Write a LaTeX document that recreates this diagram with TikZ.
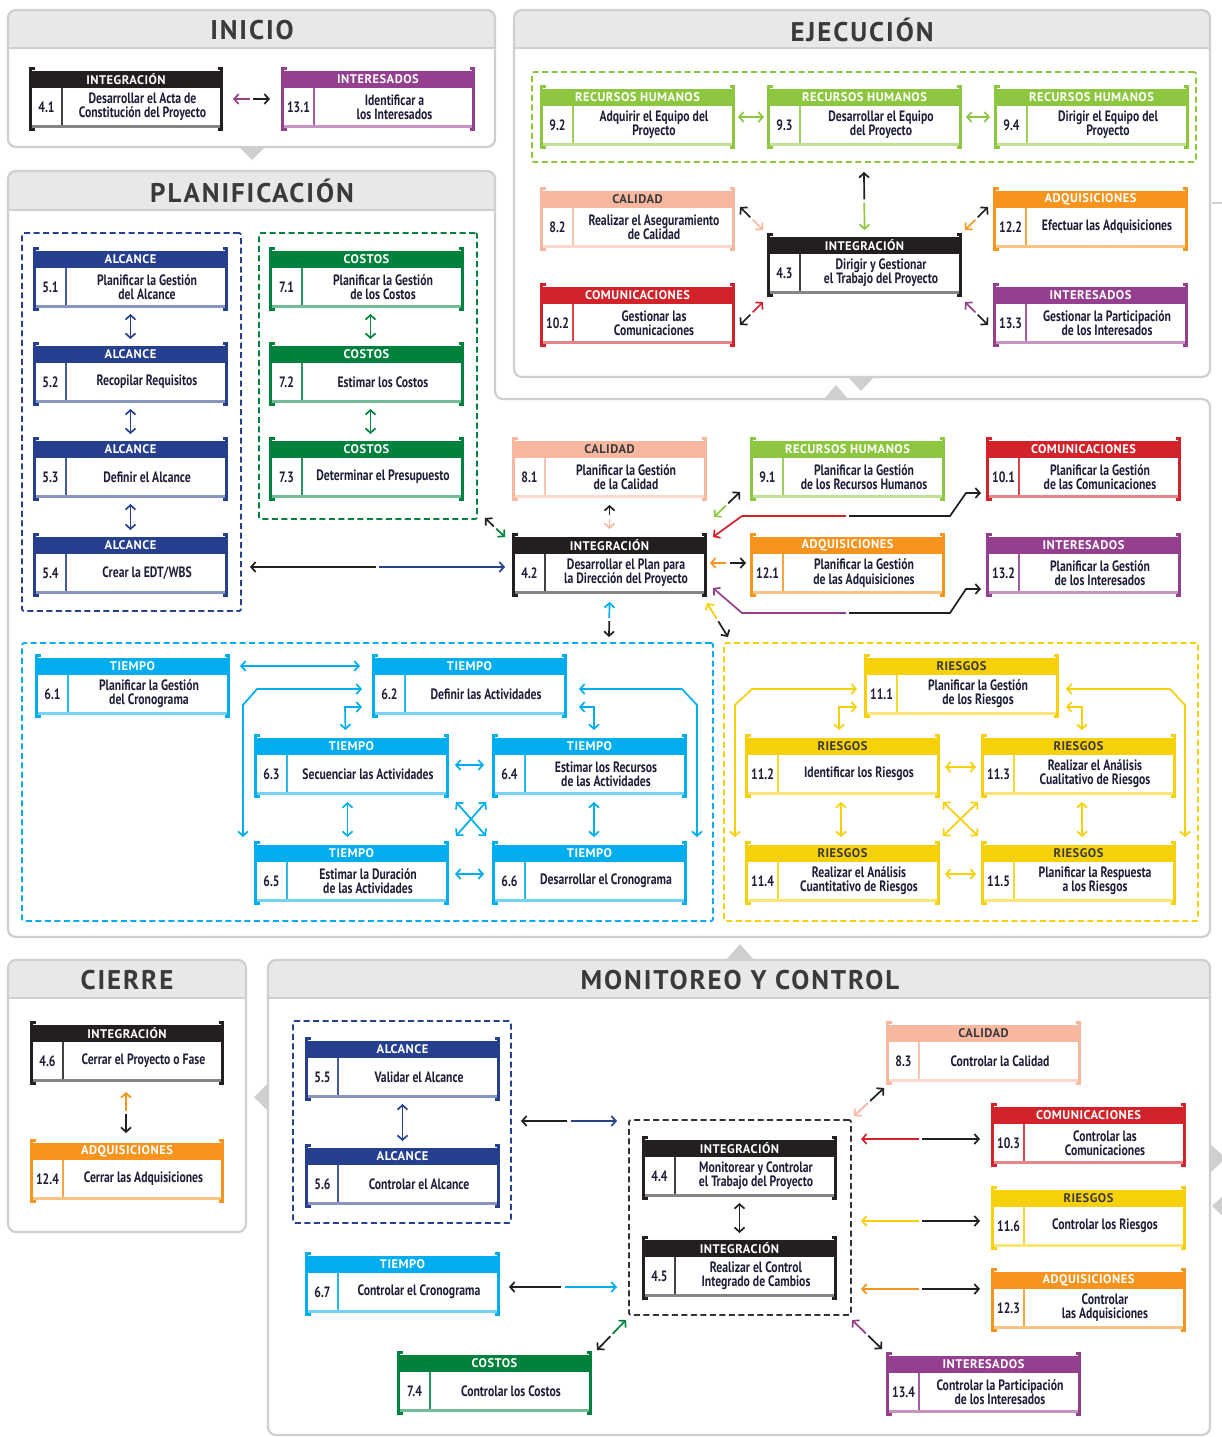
\documentclass[tikz,border=0pt]{standalone}
\usepackage{fontspec}
\setmainfont{PT Sans}
\newfontfamily\bodyfont{PT Sans}[FakeStretch=0.78, BoldFeatures={FakeStretch=0.78}]
\newfontfamily\capsfont{PT Sans}[LetterSpace=4]
\newfontfamily\titlefont{PT Sans}[LetterSpace=7]
\usetikzlibrary{arrows.meta,calc}

% process-group colours
\definecolor{cInt}{HTML}{231F20}
\definecolor{cPur}{HTML}{953F8F}
\definecolor{cAlc}{HTML}{263F8E}
\definecolor{cCos}{HTML}{00823E}
\definecolor{cTie}{HTML}{00AEEF}
\definecolor{cCal}{HTML}{F8B8A0}
\definecolor{cRH}{HTML}{8DC63F}
\definecolor{cCom}{HTML}{D2232A}
\definecolor{cAdq}{HTML}{F7941E}
\definecolor{cRie}{HTML}{F6D10A}
\definecolor{txtdark}{HTML}{1E1E38}
\definecolor{hdrdark}{HTML}{3A3A3C}
\definecolor{pgray}{HTML}{CFCFD0}
\definecolor{hdrgray}{HTML}{E7E8E9}
\definecolor{titlecol}{HTML}{3A3A3C}
\definecolor{ctlframe}{HTML}{333333}

\tikzset{
  boxshape/.style={inner sep=0pt, outer sep=0pt, draw=none},
  hdrtext/.style={font=\capsfont\bfseries\fontsize{12.5}{13}\selectfont, inner sep=0pt},
  numtext/.style={font=\bodyfont\bfseries\fontsize{15}{15}\selectfont, text=txtdark, inner sep=0pt},
  bodytext/.style={font=\bodyfont\bfseries\fontsize{15}{14.2}\selectfont, text=txtdark, align=center, inner sep=0pt},
  ptitle/.style={font=\titlefont\bfseries\fontsize{27}{30}\selectfont, text=titlecol, inner sep=0pt},
  pborder/.style={draw=pgray, line width=2.2, rounded corners=8},
  pline/.style={draw=pgray, line width=1.6},
  dframe/.style={inner sep=0pt, outer sep=0pt, draw, dash pattern=on 6pt off 3.5pt, line width=1.8, rounded corners=2, anchor=north west},
  conn/.style={line width=1.7},
}

% process box: name, x, y, width, colour, header text colour, header, number, text
\newcommand\pbox[9]{%
  \node[boxshape, minimum width=#4, minimum height=64, anchor=north west] (#1) at (#2,#3) {};
  \begin{scope}[shift={(#2,#3)}]
    \fill[#5] (2.5,4) rectangle (#4-2.5,20.5);
    \draw[#5!55, line width=2.6] (2.5,59.5) -- (#4-2.5,59.5);
    \draw[#5!85, line width=1.3] (33,20.5) -- (33,58.2);
    \draw[#5, line width=2.6] (5.5,1.3) -- (1.3,1.3) -- (1.3,62.7) -- (5.5,62.7);
    \draw[#5, line width=2.6] (#4-5.5,1.3) -- (#4-1.3,1.3) -- (#4-1.3,62.7) -- (#4-5.5,62.7);
    \node[hdrtext, text=#6] at (#4/2,12.5) {#7};
    \node[numtext] at (17.5,40) {#8};
    \node[bodytext] at ({(33+#4)/2},40) {#9};
  \end{scope}}

% two-coloured double arrow: colour at first end, colour at second end, first end, second end
\newcommand\dbl[4]{%
  \coordinate (dA) at #3;
  \coordinate (dB) at #4;
  \coordinate (dM) at ($(dA)!0.5!(dB)$);
  \draw[conn, #1, ->, shorten <=1.6pt] (dM) -- (dA);
  \draw[conn, #2, ->, shorten <=1.6pt] (dM) -- (dB);}

\begin{document}
\begin{tikzpicture}[x=1pt, y=-1pt, >={Straight Barb[length=4.5pt,width=10pt]}]
\useasboundingbox (0,0) rectangle (1222,1437);
\clip (0,0) rectangle (1222,1437);
\fill[white] (0,0) rectangle (1222,1437);

% ---------- phase panels ----------
% INICIO
\begin{scope}
  \clip[rounded corners=8] (8,10) rectangle (495,147);
  \fill[hdrgray] (8,10) rectangle (495,48);
\end{scope}
\draw[pline] (8,48) -- (495,48);
\draw[pborder] (8,10) rectangle (495,147);
\fill[pgray] (239,147) -- (265,147) -- (252,160) -- cycle;
\node[ptitle] (tIni) at (252,30) {INICIO};

% EJECUCION
\begin{scope}
  \clip[rounded corners=8] (514,10) rectangle (1210,377);
  \fill[hdrgray] (514,10) rectangle (1210,48);
\end{scope}
\draw[pline] (514,48) -- (1210,48);
\draw[pborder] (514,10) rectangle (1210,377);
\fill[pgray] (848,377) -- (874,377) -- (861,391) -- cycle;
\node[ptitle] (tEje) at (862,30) {EJECUCIÓN};

% PLANIFICACION
\begin{scope}
  \clip[rounded corners=8] (8,171) -- (495,171) -- (495,399) -- (1210,399) -- (1210,937) -- (8,937) -- cycle;
  \fill[hdrgray] (8,171) rectangle (495,210);
\end{scope}
\draw[pline] (8,210) -- (495,210);
\draw[pborder] (8,171) -- (495,171) -- (495,399) -- (1210,399) -- (1210,937) -- (8,937) -- cycle;
\fill[pgray] (823,400) -- (849,400) -- (836,385) -- cycle;
\node[ptitle] (tPla) at (252,191) {PLANIFICACIÓN};

% CIERRE
\begin{scope}
  \clip[rounded corners=8] (8,960) rectangle (246,1232);
  \fill[hdrgray] (8,960) rectangle (246,998);
\end{scope}
\draw[pline] (8,998) -- (246,998);
\draw[pborder] (8,960) rectangle (246,1232);
\node[ptitle] (tCie) at (127,980) {CIERRE};

% MONITOREO Y CONTROL
\begin{scope}
  \clip[rounded corners=8] (268,960) rectangle (1210,1435);
  \fill[hdrgray] (268,960) rectangle (1210,998);
\end{scope}
\draw[pline] (268,998) -- (1210,998);
\draw[pborder] (268,960) rectangle (1210,1435);
\fill[pgray] (727,959) -- (753,959) -- (740,944) -- cycle;
\fill[pgray] (268,1083) -- (268,1111) -- (254,1097) -- cycle;
\node[ptitle] (tMon) at (740,980) {MONITOREO Y CONTROL};

% neighbouring panels at the right edge
\fill[pgray] (1211,1145) -- (1211,1172) -- (1226,1158) -- cycle;
\fill[pgray] (1228,1191) -- (1228,1221) -- (1212,1206) -- cycle;
\draw[pline] (1212,203) -- (1224,203);

% ---------- dashed group frames ----------
\node[dframe, draw=cRH, minimum width=664, minimum height=90] (frRH) at (532,72) {};
\node[dframe, draw=cAlc, minimum width=219, minimum height=378] (frAlc) at (22,233) {};
\node[dframe, draw=cCos, minimum width=218, minimum height=286] (frCos) at (259,233) {};
\node[dframe, draw=cTie, minimum width=691, minimum height=278] (frTie) at (22,643) {};
\node[dframe, draw=cRie, minimum width=474, minimum height=278] (frRie) at (724,643) {};
\node[dframe, draw=cAlc, minimum width=218, minimum height=202] (frAlcM) at (293,1021) {};
\node[dframe, draw=ctlframe, minimum width=222, minimum height=195] (frCtl) at (629,1120) {};

% ---------- INICIO ----------
\pbox{n41}{29}{67}{194}{cInt}{white}{INTEGRACIÓN}{4.1}{Desarrollar el Acta de\\Constitución del Proyecto}
\pbox{n131}{281}{67}{194}{cPur}{white}{INTERESADOS}{13.1}{Identificar a\\los Interesados}
\dbl{cPur}{cInt}{($(n41.east)+(10,0)$)}{($(n131.west)+(-11,0)$)}

% ---------- EJECUCION ----------
\pbox{n92}{540}{85}{195}{cRH}{white}{RECURSOS HUMANOS}{9.2}{Adquirir el Equipo del\\Proyecto}
\pbox{n93}{767}{85}{195}{cRH}{white}{RECURSOS HUMANOS}{9.3}{Desarrollar el Equipo\\del Proyecto}
\pbox{n94}{994}{85}{195}{cRH}{white}{RECURSOS HUMANOS}{9.4}{Dirigir el Equipo del\\Proyecto}
\pbox{n82}{540}{187}{195}{cCal}{hdrdark}{CALIDAD}{8.2}{Realizar el Aseguramiento\\de Calidad}
\pbox{n43}{767}{233}{195}{cInt}{white}{INTEGRACIÓN}{4.3}{Dirigir y Gestionar\\el Trabajo del Proyecto}
\pbox{n122}{993}{187}{195}{cAdq}{white}{ADQUISICIONES}{12.2}{Efectuar las Adquisiciones}
\pbox{n102}{540}{283}{195}{cCom}{white}{COMUNICACIONES}{10.2}{Gestionar las\\Comunicaciones}
\pbox{n133}{993}{283}{195}{cPur}{white}{INTERESADOS}{13.3}{Gestionar la Participación\\de los Interesados}

\draw[conn, cRH, <->] ($(n92.east)+(3,0)$) -- ($(n93.west)+(-3,0)$);
\draw[conn, cRH, <->] ($(n93.east)+(4,0)$) -- ($(n94.west)+(-4,0)$);
\dbl{cInt}{cRH}{($(frRH.south)+(0,10)$)}{($(n43.north)+(0,-3)$)}
\dbl{cInt}{cCal}{($(n82.east)+(5,-12)$)}{($(n43.north west)+(-4,-3)$)}
\dbl{cInt}{cAdq}{($(n122.west)+(-5,-12)$)}{($(n43.north east)+(3,-3)$)}
\dbl{cInt}{cCom}{($(n102.east)+(5,10)$)}{($(n43.south west)+(-4,5)$)}
\dbl{cInt}{cPur}{($(n133.west)+(-5,10)$)}{($(n43.south east)+(3,5)$)}

% ---------- PLANIFICACION ----------
\pbox{n51}{33}{247}{195}{cAlc}{white}{ALCANCE}{5.1}{Planificar la Gestión\\del Alcance}
\pbox{n52}{33}{342}{195}{cAlc}{white}{ALCANCE}{5.2}{Recopilar Requisitos}
\pbox{n53}{33}{437}{195}{cAlc}{white}{ALCANCE}{5.3}{Definir el Alcance}
\pbox{n54}{33}{533}{195}{cAlc}{white}{ALCANCE}{5.4}{Crear la EDT/WBS}
\pbox{n71}{269}{247}{195}{cCos}{white}{COSTOS}{7.1}{Planificar la Gestión\\de los Costos}
\pbox{n72}{269}{342}{195}{cCos}{white}{COSTOS}{7.2}{Estimar los Costos}
\pbox{n73}{269}{437}{195}{cCos}{white}{COSTOS}{7.3}{Determinar el Presupuesto}
\pbox{n81}{512}{437}{195}{cCal}{hdrdark}{CALIDAD}{8.1}{Planificar la Gestión\\de la Calidad}
\pbox{n91}{750}{437}{195}{cRH}{white}{RECURSOS HUMANOS}{9.1}{Planificar la Gestión\\de los Recursos Humanos}
\pbox{n101}{986}{437}{195}{cCom}{white}{COMUNICACIONES}{10.1}{Planificar la Gestión\\de las Comunicaciones}
\pbox{n42}{512}{533}{195}{cInt}{white}{INTEGRACIÓN}{4.2}{Desarrollar el Plan para\\la Dirección del Proyecto}
\pbox{n121}{750}{533}{195}{cAdq}{white}{ADQUISICIONES}{12.1}{Planificar la Gestión\\de las Adquisiciones}
\pbox{n132}{986}{533}{195}{cPur}{white}{INTERESADOS}{13.2}{Planificar la Gestión\\de los Interesados}

\draw[conn, cAlc, <->] ($(n51.south)+(0,3)$) -- ($(n52.north)+(0,-3)$);
\draw[conn, cAlc, <->] ($(n52.south)+(0,3)$) -- ($(n53.north)+(0,-3)$);
\draw[conn, cAlc, <->] ($(n53.south)+(0,3)$) -- ($(n54.north)+(0,-3)$);
\draw[conn, cCos, <->] ($(n71.south)+(4,3)$) -- ($(n72.north)+(4,-3)$);
\draw[conn, cCos, <->] ($(n72.south)+(4,3)$) -- ($(n73.north)+(4,-3)$);

\dbl{cInt}{cAlc}{($(frAlc.south east)+(9,-44)$)}{($(n42.west)+(-7,2)$)}
\dbl{cInt}{cCos}{($(frCos.south east)+(8,-1)$)}{($(n42.north west)+(-7,4)$)}
\dbl{cInt}{cCal}{($(n81.south)+(0,4)$)}{($(n42.north)+(0,-4)$)}
\dbl{cInt}{cRH}{($(n91.south west)+(-10,-9)$)}{($(n42.north east)+(7,-16)$)}
\dbl{cAdq}{cInt}{($(n42.east)+(3,-2)$)}{($(n121.west)+(-4,-2)$)}
% bent connectors from 4.2 to 10.1 and 13.2
\draw[conn, cCom, ->] (846,516) -- (742,516) -- ($(n42.north east)+(6,4)$);
\draw[conn, cInt, ->] (849,516) -- (950,516) -- (966,493) -- ($(n101.west)+(-5,24)$);
\draw[conn, cPur, ->] (846,613) -- (742,613) -- ($(n42.south east)+(6,-9)$);
\draw[conn, cInt, ->] (849,613) -- (950,613) -- (966,589) -- ($(n132.west)+(-5,24)$);
\dbl{cTie}{cInt}{($(n42.south)+(0,5)$)}{($(frTie.north east)+(-104,-6)$)}
\dbl{cRie}{cInt}{($(n42.south east)+(0,6)$)}{($(frRie.north west)+(4,-6)$)}

% TIEMPO group
\pbox{n61}{35}{654}{195}{cTie}{white}{TIEMPO}{6.1}{Planificar la Gestión\\del Cronograma}
\pbox{n62}{372}{654}{195}{cTie}{white}{TIEMPO}{6.2}{Definir las Actividades}
\pbox{n63}{254}{734}{195}{cTie}{white}{TIEMPO}{6.3}{Secuenciar las Actividades}
\pbox{n64}{492}{734}{195}{cTie}{white}{TIEMPO}{6.4}{Estimar los Recursos\\de las Actividades}
\pbox{n65}{254}{841}{195}{cTie}{white}{TIEMPO}{6.5}{Estimar la Duración\\de las Actividades}
\pbox{n66}{492}{841}{195}{cTie}{white}{TIEMPO}{6.6}{Desarrollar el Cronograma}

\begin{scope}[conn, cTie]
  \draw[<->] ($(n61.east)+(10,-20)$) -- ($(n62.west)+(-12,-20)$);
  \draw[<->] ($(n62.west)+(-10,3)$) -- (257,689) -- (243,705) -- ($(n65.north west)+(-11,-4)$);
  \draw[<->] ($(n62.east)+(12,3)$) -- (682,689) -- (697,705) -- ($(n66.north east)+(10,-4)$);
  \draw[<->] ($(n62.west)+(-10,21)$) -- (345,707) -- ($(n63.north)+(-6,-4)$);
  \draw[<->] ($(n62.east)+(12,21)$) -- (594,707) -- ($(n64.north)+(4.5,-4)$);
  \draw[<->] ($(n63.east)+(6,-1)$) -- ($(n64.west)+(-8,-1)$);
  \draw[<->] ($(n65.east)+(6,1)$) -- ($(n66.west)+(-8,1)$);
  \draw[<->] ($(n63.south)+(-4,4)$) -- ($(n65.north)+(-4,-4)$);
  \draw[<->] ($(n64.south)+(4.5,4)$) -- ($(n66.north)+(4.5,-4)$);
  \draw[<->] ($(n63.south east)+(7,4)$) -- ($(n66.north west)+(-6,-5)$);
  \draw[<->] ($(n64.south west)+(-6,4)$) -- ($(n65.north east)+(7,-5)$);
\end{scope}

% RIESGOS group
\pbox{n111}{864}{654}{195}{cRie}{hdrdark}{RIESGOS}{11.1}{Planificar la Gestión\\de los Riesgos}
\pbox{n112}{745}{734}{195}{cRie}{hdrdark}{RIESGOS}{11.2}{Identificar los Riesgos}
\pbox{n113}{981}{734}{195}{cRie}{hdrdark}{RIESGOS}{11.3}{Realizar el Análisis\\Cualitativo de Riesgos}
\pbox{n114}{745}{841}{195}{cRie}{hdrdark}{RIESGOS}{11.4}{Realizar el Análisis\\Cuantitativo de Riesgos}
\pbox{n115}{981}{841}{195}{cRie}{hdrdark}{RIESGOS}{11.5}{Planificar la Respuesta\\a los Riesgos}

\begin{scope}[conn, cRie]
  \draw[<->] ($(n111.west)+(-7,3)$) -- (752,689) -- (735,705) -- ($(n114.north west)+(-10,-4)$);
  \draw[<->] ($(n111.east)+(7,3)$) -- (1170,689) -- (1185,705) -- ($(n115.north east)+(9,-4)$);
  \draw[<->] ($(n111.west)+(-7,21)$) -- (839,707) -- ($(n112.north)+(-3.5,-4)$);
  \draw[<->] ($(n111.east)+(7,21)$) -- (1082,707) -- ($(n113.north)+(3.5,-4)$);
  \draw[<->] ($(n112.east)+(5,1)$) -- ($(n113.west)+(-5,1)$);
  \draw[<->] ($(n114.east)+(5,1)$) -- ($(n115.west)+(-5,1)$);
  \draw[<->] ($(n112.south)+(-1.5,4)$) -- ($(n114.north)+(-1.5,-4)$);
  \draw[<->] ($(n113.south)+(3.5,4)$) -- ($(n115.north)+(3.5,-4)$);
  \draw[<->] ($(n112.south east)+(3,4)$) -- ($(n115.north west)+(-3,-5)$);
  \draw[<->] ($(n113.south west)+(-3,4)$) -- ($(n114.north east)+(3,-5)$);
\end{scope}

% ---------- CIERRE ----------
\pbox{n46}{30}{1021}{194}{cInt}{white}{INTEGRACIÓN}{4.6}{Cerrar el Proyecto o Fase}
\pbox{n124}{30}{1139}{194}{cAdq}{white}{ADQUISICIONES}{12.4}{Cerrar las Adquisiciones}
\dbl{cAdq}{cInt}{($(n46.south)+(-1,7)$)}{($(n124.north)+(-1,-6)$)}

% ---------- MONITOREO Y CONTROL ----------
\pbox{n55}{305}{1037}{195}{cAlc}{white}{ALCANCE}{5.5}{Validar el Alcance}
\pbox{n56}{305}{1144}{195}{cAlc}{white}{ALCANCE}{5.6}{Controlar el Alcance}
\pbox{n67}{305}{1252}{195}{cTie}{white}{TIEMPO}{6.7}{Controlar el Cronograma}
\pbox{n74}{397}{1351}{195}{cCos}{white}{COSTOS}{7.4}{Controlar los Costos}
\pbox{n44}{642}{1136}{195}{cInt}{white}{INTEGRACIÓN}{4.4}{Monitorear y Controlar\\el Trabajo del Proyecto}
\pbox{n45}{642}{1236}{195}{cInt}{white}{INTEGRACIÓN}{4.5}{Realizar el Control\\Integrado de Cambios}
\pbox{n83}{886}{1021}{195}{cCal}{hdrdark}{CALIDAD}{8.3}{Controlar la Calidad}
\pbox{n103}{991}{1103}{195}{cCom}{white}{COMUNICACIONES}{10.3}{Controlar las\\Comunicaciones}
\pbox{n116}{991}{1186}{195}{cRie}{hdrdark}{RIESGOS}{11.6}{Controlar los Riesgos}
\pbox{n123}{991}{1268}{195}{cAdq}{white}{ADQUISICIONES}{12.3}{Controlar\\las Adquisiciones}
\pbox{n134}{886}{1352}{195}{cPur}{white}{INTERESADOS}{13.4}{Controlar la Participación\\de los Interesados}

\draw[conn, cAlc, <->] ($(n55.south)+(0,3)$) -- ($(n56.north)+(0,-3)$);
\draw[conn, cInt, <->] ($(n44.south)+(0,3)$) -- ($(n45.north)+(0,-3)$);
\dbl{cInt}{cAlc}{($(frAlcM.east)+(10,-1)$)}{($(frCtl.north west)+(-12,1)$)}
\dbl{cInt}{cTie}{($(n67.east)+(9,3)$)}{($(frCtl.north west)+(-12,167)$)}
\dbl{cInt}{cCos}{($(n74.north east)+(5,-1)$)}{($(frCtl.south west)+(-3,5)$)}
\dbl{cCal}{cInt}{($(frCtl.north east)+(3,-4)$)}{($(n83.south west)+(-2,3)$)}
\dbl{cCom}{cInt}{($(frCtl.north east)+(10,19)$)}{($(n103.west)+(-11,4)$)}
\dbl{cRie}{cInt}{($(frCtl.north east)+(10,101)$)}{($(n116.west)+(-11,3)$)}
\dbl{cAdq}{cInt}{($(frCtl.north east)+(10,169)$)}{($(n123.west)+(-11,-11)$)}
\dbl{cPur}{cInt}{($(frCtl.south east)+(1,5)$)}{($(n134.north west)+(-4,-3)$)}

\end{tikzpicture}
\end{document}
